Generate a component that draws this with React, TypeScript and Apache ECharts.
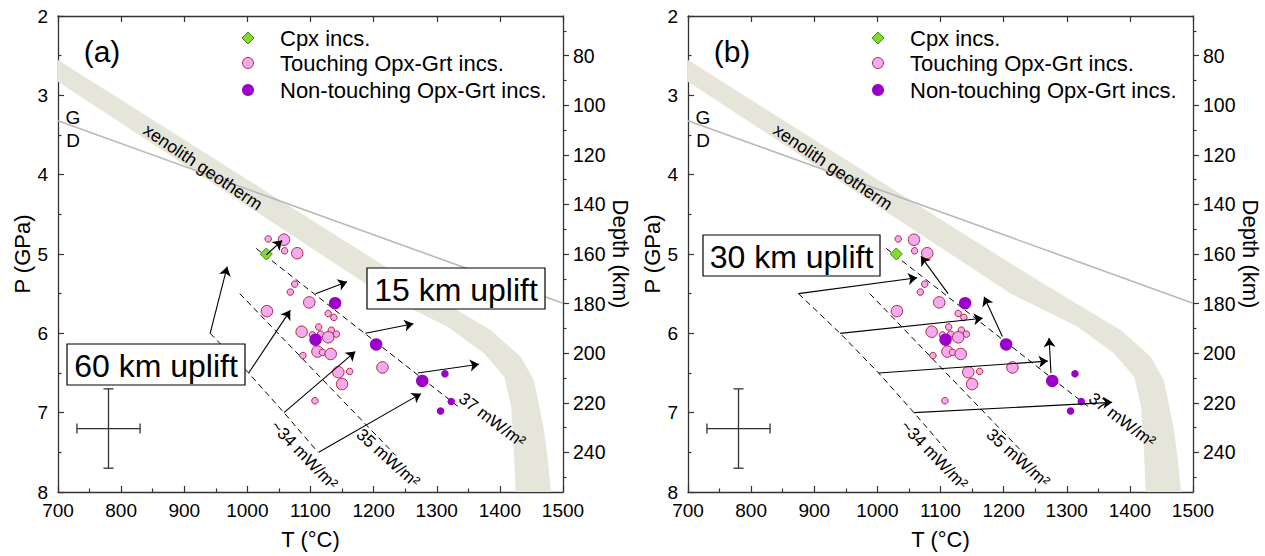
import { useEffect, useRef } from "react";
import * as echarts from "echarts";

const FONT = "'Liberation Sans', Arial, Helvetica, sans-serif";

// ---------- data (T in °C, P in GPa) ----------
const touchingT = [1033, 1058, 1059, 1079, 1075, 1068, 1098, 1031, 1128, 1137, 1086, 1113, 1103, 1116, 1133, 1141, 1128, 1111, 1119, 1132, 1088, 1144, 1162, 1150, 1214, 1107];
const touchingP = [4.81, 4.82, 4.96, 4.99, 5.38, 5.48, 5.61, 5.72, 5.75, 5.80, 5.98, 5.92, 6.02, 6.01, 5.96, 6.01, 6.05, 6.23, 6.24, 6.26, 6.28, 6.49, 6.48, 6.64, 6.43, 6.85];
const touchingLarge = [0, 1, 0, 1, 0, 0, 1, 1, 0, 0, 1, 0, 0, 0, 0, 0, 1, 1, 0, 1, 0, 1, 0, 1, 1, 0];

const nonTouchingT = [1139, 1108, 1204, 1277, 1313, 1323, 1306];
const nonTouchingP = [5.62, 6.08, 6.14, 6.60, 6.51, 6.86, 6.98];
const nonTouchingLarge = [1, 1, 1, 1, 0, 0, 0];

const cpxT = [1030];
const cpxP = [5.0];

// geotherms (dashed)
const geo37T = [1014, 1335];
const geo37P = [4.93, 6.93];
const geo35T = [988, 1235];
const geo35P = [5.5, 7.54];
const geo34T = [875, 941, 1002, 1058, 1112];
const geo34P = [5.5, 6.0, 6.5, 7.0, 7.5];

// graphite-diamond line
const gdT = [700, 1500];
const gdP = [3.32, 5.62];

// xenolith geotherm band edges
const bandUpperT = [700, 1211, 1328, 1386, 1433, 1454, 1470, 1476, 1481];
const bandUpperP = [2.555, 5.119, 5.686, 5.96, 6.296, 6.59, 7.221, 7.599, 8.0];
const bandLowerT = [700, 1211, 1317, 1375, 1407, 1418, 1423, 1425];
const bandLowerP = [2.828, 5.497, 5.918, 6.253, 6.549, 6.927, 7.599, 8.0];

// arrows: [tailT, tailP, headT, headP]
const arrowsA = [
  [1030, 5.01, 1055, 4.83],
  [941, 6.0, 968, 5.16],
  [1002, 6.5, 1068, 5.71],
  [1058, 7.0, 1171, 6.23],
  [1113, 7.5, 1275, 6.76],
  [1108, 5.5, 1158, 5.35],
  [1187, 6.0, 1263, 5.88],
  [1270, 6.5, 1367, 6.39],
];
const arrowsB = [
  [875, 5.5, 1063, 5.3],
  [941, 6.0, 1167, 5.81],
  [1002, 6.5, 1270, 6.35],
  [1058, 7.0, 1372, 6.87],
  [1112, 5.5, 1069, 5.03],
  [1198, 6.04, 1169, 5.54],
  [1275, 6.5, 1272, 6.06],
];

// representative error bar
const errT = 780;
const errP = 7.2;
const errDT = 50;
const errDP = 0.5;

// axis ticks
const depthMajor = [80, 100, 120, 140, 160, 180, 200, 220, 240];
const depthMinor = [70, 90, 110, 130, 150, 170, 190, 210, 230, 250];

// ---------- styles ----------
const AXIS_COLOR = "#333";
const BAND_COLOR = "#e5e5da";
const PINK = "#f4aaf0";
const PINK_EDGE = "#b22a3e";
const PURPLE = "#9b00c9";
const GREEN = "#86d82e";
const GREEN_EDGE = "#3f8f16";

const GRID_LEFT = [58, 688];
const GRID_TOP = 16;
const GRID_W = 505;
const GRID_H = 476;

function buildOption() {
  const grid: any[] = [];
  const xAxis: any[] = [];
  const yAxis: any[] = [];
  const series: any[] = [];
  const graphic: any[] = [];

  const axisLine = { show: true, lineStyle: { color: AXIS_COLOR, width: 1.3 } };
  const tickLine = { color: AXIS_COLOR, width: 1.2 };
  const labelStyle = { fontSize: 19, color: "#000", fontFamily: FONT, formatter: (v: number) => String(v) };
  const nameStyle = { fontSize: 22, color: "#000", fontFamily: FONT };

  for (let i = 0; i < 2; i++) {
    const ox = i * 630;
    grid.push({ left: GRID_LEFT[i], top: GRID_TOP, width: GRID_W, height: GRID_H });
    xAxis.push({
      gridIndex: i, type: "value", position: "bottom", min: 700, max: 1500, interval: 100,
      axisLine, axisTick: { show: true, inside: true, length: 6, lineStyle: tickLine },
      minorTick: { show: true, splitNumber: 2, length: 3.5, lineStyle: tickLine },
      axisLabel: { ...labelStyle, margin: 9 }, splitLine: { show: false },
      name: "T (°C)", nameLocation: "middle", nameGap: 36, nameTextStyle: nameStyle,
    });
    xAxis.push({
      gridIndex: i, type: "value", position: "top", min: 700, max: 1500, interval: 100,
      axisLine, axisTick: { show: true, inside: true, length: 6, lineStyle: tickLine },
      axisLabel: { show: false }, splitLine: { show: false },
    });
    yAxis.push({
      gridIndex: i, type: "value", position: "left", min: 2, max: 8, interval: 1, inverse: true,
      axisLine, axisTick: { show: true, inside: true, length: 6, lineStyle: tickLine },
      minorTick: { show: true, splitNumber: 2, length: 3.5, lineStyle: tickLine },
      axisLabel: { ...labelStyle, margin: 10 }, splitLine: { show: false },
      name: "P (GPa)", nameLocation: "middle", nameRotate: 90, nameGap: 25, nameTextStyle: nameStyle,
    });
    yAxis.push({
      gridIndex: i, type: "value", position: "right", min: 64, max: 256, inverse: true,
      axisLine, axisTick: { show: true, inside: false, length: 6, lineStyle: tickLine, customValues: depthMajor },
      axisLabel: { ...labelStyle, fontSize: 19.5, margin: 10, customValues: depthMajor }, splitLine: { show: false },
      name: "Depth (km)", nameLocation: "middle", nameRotate: -90, nameGap: 46, nameTextStyle: nameStyle,
    });
    yAxis.push({
      gridIndex: i, type: "value", position: "right", min: 64, max: 256, inverse: true,
      axisLine: { show: false }, axisTick: { show: true, inside: false, length: 3.5, lineStyle: tickLine, customValues: depthMinor },
      axisLabel: { show: false }, splitLine: { show: false },
    });

    const xi = 2 * i;
    const yi = 3 * i;

    // xenolith geotherm band
    series.push({
      type: "custom", xAxisIndex: xi, yAxisIndex: yi, silent: true, z: 1, data: [[700, 2]],
      renderItem: (_p: any, api: any) => {
        const pts: number[][] = [];
        for (let k = 0; k < bandUpperT.length; k++) pts.push(api.coord([bandUpperT[k], bandUpperP[k]]));
        for (let k = bandLowerT.length - 1; k >= 0; k--) pts.push(api.coord([bandLowerT[k], bandLowerP[k]]));
        return { type: "polygon", shape: { points: pts }, style: { fill: BAND_COLOR } };
      },
    });
    // G-D line
    series.push({
      type: "line", xAxisIndex: xi, yAxisIndex: yi, silent: true, z: 2, symbol: "none",
      data: gdT.map((t, k) => [t, gdP[k]]), lineStyle: { color: "#b9b9b9", width: 1.6 },
    });
    // geotherms
    const g34Start = i === 0 ? 1 : 0;
    const geos = [
      [geo37T, geo37P, 0],
      [geo35T, geo35P, 0],
      [geo34T, geo34P, g34Start],
    ] as any[];
    geos.forEach(([gt, gp, s]) => {
      series.push({
        type: "line", xAxisIndex: xi, yAxisIndex: yi, silent: true, z: 3, symbol: "none",
        data: gt.slice(s).map((t: number, k: number) => [t, gp[k + s]]),
        lineStyle: { color: "#000", width: 1, type: [6, 4] },
      });
    });
    // error cross
    series.push({
      type: "custom", xAxisIndex: xi, yAxisIndex: yi, silent: true, z: 3, data: [[errT, errP]],
      renderItem: (_p: any, api: any) => {
        const l = api.coord([errT - errDT, errP]);
        const r = api.coord([errT + errDT, errP]);
        const t = api.coord([errT, errP - errDP]);
        const b = api.coord([errT, errP + errDP]);
        const cap = 5;
        const st = { stroke: "#333", lineWidth: 1.3 };
        return {
          type: "group",
          children: [
            { type: "line", shape: { x1: l[0], y1: l[1], x2: r[0], y2: r[1] }, style: st },
            { type: "line", shape: { x1: l[0], y1: l[1] - cap, x2: l[0], y2: l[1] + cap }, style: st },
            { type: "line", shape: { x1: r[0], y1: r[1] - cap, x2: r[0], y2: r[1] + cap }, style: st },
            { type: "line", shape: { x1: t[0], y1: t[1], x2: b[0], y2: b[1] }, style: st },
            { type: "line", shape: { x1: t[0] - cap, y1: t[1], x2: t[0] + cap, y2: t[1] }, style: st },
            { type: "line", shape: { x1: b[0] - cap, y1: b[1], x2: b[0] + cap, y2: b[1] }, style: st },
          ],
        };
      },
    });
    // scatter points
    series.push({
      name: "Touching Opx-Grt incs.", type: "scatter", xAxisIndex: xi, yAxisIndex: yi, z: 5,
      data: touchingT.map((t, k) => [t, touchingP[k], touchingLarge[k]]),
      symbolSize: (v: number[]) => (v[2] ? 11.5 : 6.5),
      itemStyle: { color: PINK, borderColor: PINK_EDGE, borderWidth: 1, opacity: 1 },
    });
    series.push({
      name: "Non-touching Opx-Grt incs.", type: "scatter", xAxisIndex: xi, yAxisIndex: yi, z: 5,
      data: nonTouchingT.map((t, k) => [t, nonTouchingP[k], nonTouchingLarge[k]]),
      symbolSize: (v: number[]) => (v[2] ? 12.5 : 7.5),
      itemStyle: { color: PURPLE, opacity: 1 },
    });
    series.push({
      name: "Cpx incs.", type: "scatter", xAxisIndex: xi, yAxisIndex: yi, z: 5, symbol: "diamond",
      data: cpxT.map((t, k) => [t, cpxP[k]]), symbolSize: 12,
      itemStyle: { color: GREEN, borderColor: GREEN_EDGE, borderWidth: 1, opacity: 1 },
    });
    // arrows
    const arrows = i === 0 ? arrowsA : arrowsB;
    series.push({
      type: "lines", coordinateSystem: "cartesian2d", xAxisIndex: xi, yAxisIndex: yi, z: 6, silent: true,
      symbol: ["none", "arrow"], symbolSize: 9,
      lineStyle: { color: "#000", width: 1.1, opacity: 1, curveness: 0 },
      data: arrows.map((a) => ({ coords: [[a[0], a[1]], [a[2], a[3]]] })),
    });

    // ----- annotations -----
    const txt = (text: string, x: number, y: number, size: number, rot = 0, extra: any = {}) => ({
      type: "text", x, y, rotation: (rot * Math.PI) / 180, z: 100,
      style: { text, fontSize: size, fontFamily: FONT, fill: "#000", align: "center", verticalAlign: "middle", ...extra },
    });
    graphic.push(txt(i === 0 ? "(a)" : "(b)", 102 + ox, 51, 30));
    graphic.push(txt("G", 73 + ox, 117, 19));
    graphic.push(txt("D", 73 + ox, 140, 19));
    graphic.push(txt("xenolith geotherm", 203 + ox, 167, 17.5, -34));
    graphic.push(txt("37 mW/m²", 492 + ox, 420, 17, -37));
    graphic.push(txt("35 mW/m²", 388 + ox, 458, 17, -42));
    graphic.push(txt("~34 mW/m²", 304 + ox, 455, 17, -46));

    // legend
    graphic.push({
      type: "polygon", z: 100,
      shape: { points: [[248 + ox, 32], [254 + ox, 38], [248 + ox, 44], [242 + ox, 38]] },
      style: { fill: GREEN, stroke: GREEN_EDGE, lineWidth: 1 },
    });
    graphic.push({ type: "circle", z: 100, shape: { cx: 248 + ox, cy: 63, r: 5.5 }, style: { fill: PINK, stroke: PINK_EDGE, lineWidth: 1 } });
    graphic.push({ type: "circle", z: 100, shape: { cx: 248 + ox, cy: 90, r: 6 }, style: { fill: PURPLE } });
    graphic.push(txt("Cpx incs.", 280 + ox, 38, 22, 0, { align: "left" }));
    graphic.push(txt("Touching Opx-Grt incs.", 280 + ox, 63, 22, 0, { align: "left" }));
    graphic.push(txt("Non-touching Opx-Grt incs.", 280 + ox, 90, 22, 0, { align: "left" }));
  }

  // uplift boxes
  const box = (label: string, x: number, y: number, w: number, h: number) => {
    graphic.push({ type: "rect", z: 110, shape: { x, y, width: w, height: h }, style: { fill: "#fff", stroke: "#000", lineWidth: 1.2 } });
    graphic.push({
      type: "text", z: 111, x: x + w / 2, y: y + h / 2 + 1,
      style: { text: label, fontSize: 32, fontFamily: FONT, fill: "#000", align: "center", verticalAlign: "middle" },
    });
  };
  box("60 km uplift", 67, 344, 178, 41);
  box("15 km uplift", 367, 268, 178, 41);
  box("30 km uplift", 703, 235, 177, 41);

  return { animation: false, backgroundColor: "#fff", textStyle: { fontFamily: FONT }, grid, xAxis, yAxis, series, graphic };
}

export default function App() {
  const ref = useRef<HTMLDivElement>(null);
  useEffect(() => {
    if (!ref.current) return;
    const chart = echarts.init(ref.current, undefined, { renderer: "svg" });
    chart.setOption(buildOption() as any);
    return () => chart.dispose();
  }, []);
  return <div ref={ref} style={{ position: "fixed", left: 0, top: 0, width: 1265, height: 556, background: "#fff" }} />;
}
